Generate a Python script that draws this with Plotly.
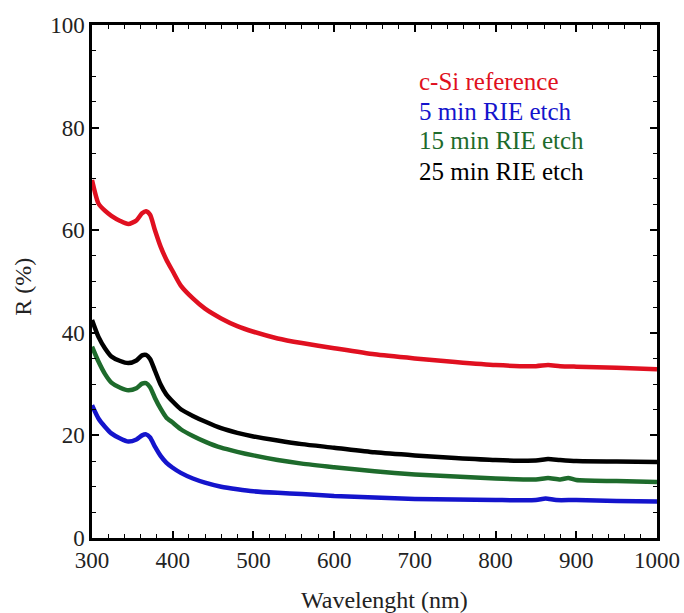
import plotly.graph_objects as go

wl_red = [300, 308, 316, 324, 335, 345, 355, 362, 367, 372, 378, 385, 392, 400, 410, 425, 440, 460, 480, 500, 530, 560, 600, 650, 700, 750, 800, 850, 865, 880, 900, 950, 1000]
r_red = [69.8, 65.2, 63.8, 62.8, 61.8, 61.2, 61.9, 63.3, 63.7, 63.0, 60.0, 56.8, 54.3, 52.0, 49.2, 46.7, 44.7, 42.8, 41.3, 40.2, 38.9, 38.0, 37.0, 35.8, 35.0, 34.3, 33.7, 33.5, 33.7, 33.5, 33.4, 33.2, 32.9]

wl_black = [300, 308, 316, 324, 335, 345, 355, 362, 367, 372, 378, 385, 392, 400, 410, 425, 440, 460, 480, 500, 530, 560, 600, 650, 700, 750, 800, 850, 865, 880, 900, 950, 1000]
r_black = [42.5, 39.2, 37.0, 35.4, 34.5, 34.1, 34.6, 35.6, 35.7, 34.9, 32.6, 29.9, 28.0, 26.6, 25.1, 23.8, 22.7, 21.4, 20.5, 19.8, 19.0, 18.3, 17.6, 16.7, 16.1, 15.6, 15.2, 15.1, 15.4, 15.2, 15.0, 14.9, 14.8]

wl_green = [300, 308, 316, 324, 335, 345, 355, 362, 367, 372, 378, 385, 392, 400, 410, 425, 440, 460, 480, 500, 530, 560, 600, 650, 700, 750, 800, 850, 865, 880, 890, 900, 950, 1000]
r_green = [37.3, 34.4, 32.0, 30.3, 29.3, 28.8, 29.2, 30.1, 30.2, 29.4, 27.3, 25.2, 23.5, 22.5, 21.2, 19.9, 18.8, 17.6, 16.8, 16.1, 15.2, 14.5, 13.8, 13.0, 12.4, 12.0, 11.6, 11.4, 11.7, 11.4, 11.7, 11.3, 11.1, 10.9]

wl_blue = [300, 308, 316, 324, 335, 345, 355, 362, 367, 372, 378, 385, 392, 400, 410, 425, 440, 460, 480, 500, 530, 560, 600, 650, 700, 750, 800, 850, 862, 875, 900, 950, 1000]
r_blue = [25.9, 23.3, 21.7, 20.4, 19.4, 18.8, 19.2, 20.0, 20.2, 19.6, 17.8, 16.0, 14.7, 13.7, 12.7, 11.6, 10.8, 10.0, 9.5, 9.1, 8.8, 8.6, 8.2, 7.9, 7.6, 7.5, 7.4, 7.4, 7.7, 7.4, 7.4, 7.2, 7.1]

labels = ["c-Si reference", "5 min RIE etch", "15 min RIE etch", "25 min RIE etch"]
label_y = [88.9, 83.2, 77.4, 71.5]

C_RED = "#e01020"
C_BLUE = "#1414cc"
C_GREEN = "#1e6b2c"
C_BLACK = "#000000"

FONT = "Liberation Serif"
TXT = "#222222"

fig = go.Figure()
for wl, r, c, name in [(wl_red, r_red, C_RED, labels[0]),
                       (wl_black, r_black, C_BLACK, labels[3]),
                       (wl_green, r_green, C_GREEN, labels[2]),
                       (wl_blue, r_blue, C_BLUE, labels[1])]:
    fig.add_trace(go.Scatter(x=wl, y=r, mode="lines", name=name,
                             line=dict(color=c, width=4.5, shape="spline", smoothing=0.6),
                             showlegend=False))

for txt, yv, c in zip(labels, label_y, [C_RED, C_BLUE, C_GREEN, C_BLACK]):
    fig.add_annotation(x=703, y=yv, xref="x", yref="y", text=txt, showarrow=False,
                       xanchor="left", yanchor="middle",
                       font=dict(family=FONT, size=25, color=c))

# axis titles
fig.add_annotation(x=0.517, y=-0.121, xref="paper", yref="paper", text="Wavelenght (nm)",
                   showarrow=False, xanchor="center", yanchor="middle",
                   font=dict(family=FONT, size=24, color=TXT))
fig.add_annotation(x=-0.122, y=0.49, xref="paper", yref="paper", text="R (%)",
                   showarrow=False, xanchor="center", yanchor="middle", textangle=-90,
                   font=dict(family=FONT, size=24, color=TXT))

axis_common = dict(showline=True, linecolor="black", linewidth=2.5, mirror="ticks",
                   ticks="inside", ticklen=7, tickwidth=1.5, tickcolor="black",
                   showgrid=False, zeroline=False, automargin=False,
                   tickfont=dict(family=FONT, size=23, color=TXT))

fig.update_xaxes(range=[300, 1000], dtick=100, tick0=300,
                 minor=dict(ticks="inside", ticklen=4, dtick=20, tickcolor="black", tickwidth=1.2),
                 **axis_common)
fig.update_yaxes(range=[0, 100], dtick=20,
                 minor=dict(ticks="inside", ticklen=4, dtick=5, tickcolor="black", tickwidth=1.2),
                 **axis_common)

fig.update_layout(width=684, height=613, plot_bgcolor="white", paper_bgcolor="white",
                  margin=dict(l=92, r=27, t=25, b=75))

fig.write_html("out.html", config={"displayModeBar": False},
               post_script="document.body.style.margin='0';")
